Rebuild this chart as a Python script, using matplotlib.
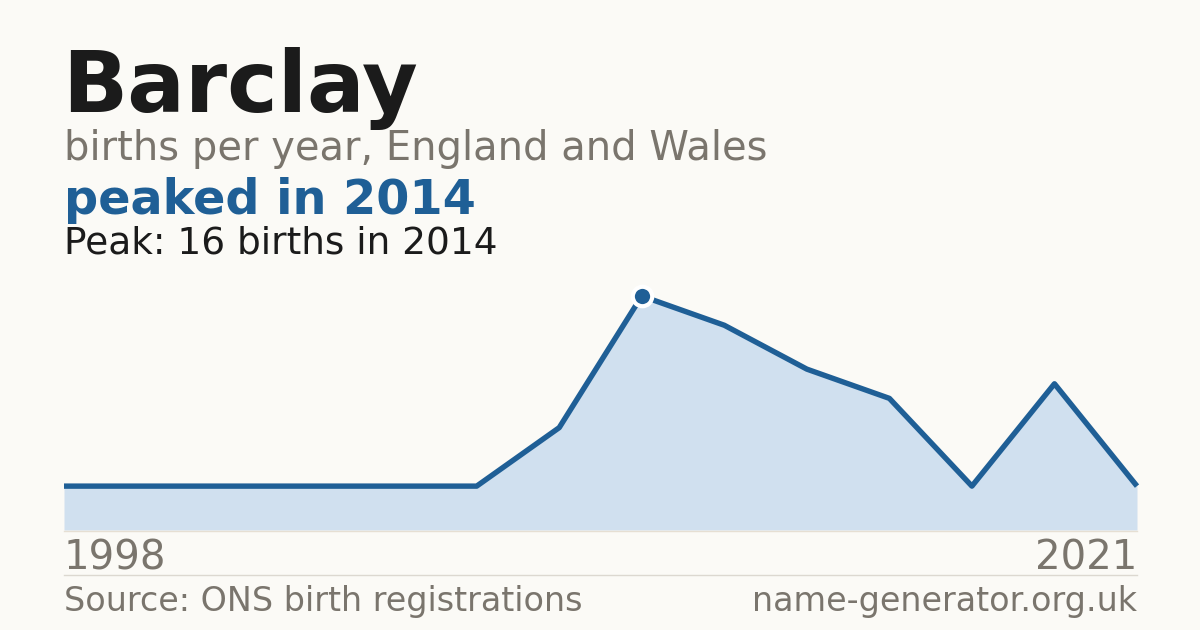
import matplotlib
matplotlib.use("Agg")
import matplotlib.pyplot as plt

# data
years = [1998, 2001, 2004, 2007, 2010, 2012, 2013, 2014, 2015, 2016, 2017, 2018, 2019, 2021]
births = [3, 3, 3, 3, 3, 3, 7, 16, 14, 11, 9, 3, 10, 3]
peak_year = 2014
peak_value = 16
name = "Barclay"
subtitle = "births per year, England and Wales"
headline = "peaked in 2014"
peak_text = "Peak: 16 births in 2014"
source = "Source: ONS birth registrations"
site = "name-generator.org.uk"

BG = "#fbfaf6"
BLUE = "#1f5f96"
FILL = "#d0e0ef"
GREY = "#7a756d"
DARK = "#1b1b1b"

W, H = 1200, 630
fig = plt.figure(figsize=(12, 6.3), dpi=100, facecolor=BG)
plt.rcParams['font.family'] = ['DejaVu Sans']

def fx(px):
    return px / W

def fy(py):
    return 1 - py / H

# axes: left 64, right 1137, bottom 530, y=16 at 296
left, right, bottom, top = 64, 1137, 530, 280
ax = fig.add_axes([fx(left), fy(bottom), fx(right - left), (bottom - top) / H])
ax.set_facecolor(BG)
x = list(range(len(years)))
ymax = 16 * (bottom - top) / (bottom - 296)
ax.set_xlim(0, len(years) - 1)
ax.set_ylim(0, ymax)
ax.fill_between(x, births, 0, color=FILL, linewidth=0)
ax.plot(x, births, color=BLUE, linewidth=3.9, solid_joinstyle='round',
        solid_capstyle='butt', clip_on=False)
pi = years.index(peak_year)
ax.plot([x[pi]], [births[pi]], 'o', markersize=14, markerfacecolor=BLUE,
        markeredgecolor='white', markeredgewidth=3.0, clip_on=False, zorder=5)
ax.axis('off')

# baseline and divider
fig.add_artist(plt.Line2D([fx(64), fx(1137)], [fy(530.5), fy(530.5)], color="#e6dfd3", linewidth=1))
fig.add_artist(plt.Line2D([fx(64), fx(1137)], [fy(574.5), fy(574.5)], color="#dcd8d0", linewidth=1))

# texts
fig.text(fx(62), fy(112), name, fontsize=61.6, fontweight='bold', color=DARK, va='baseline', ha='left')
fig.text(fx(64), fy(160), subtitle, fontsize=28.8, color=GREY, va='baseline', ha='left')
fig.text(fx(64), fy(214), headline, fontsize=34.4, fontweight='bold', color=BLUE, va='baseline', ha='left')
fig.text(fx(64), fy(254), peak_text, fontsize=27, color=DARK, va='baseline', ha='left')
fig.text(fx(64), fy(570), str(years[0]), fontsize=29, color=GREY, va='baseline', ha='left')
fig.text(fx(1137), fy(570), str(years[-1]), fontsize=29, color=GREY, va='baseline', ha='right')
fig.text(fx(64), fy(611), source, fontsize=24, color=GREY, va='baseline', ha='left')
fig.text(fx(1137), fy(611), site, fontsize=24, color=GREY, va='baseline', ha='right')

fig.savefig("out.png", dpi=100, facecolor=BG)
